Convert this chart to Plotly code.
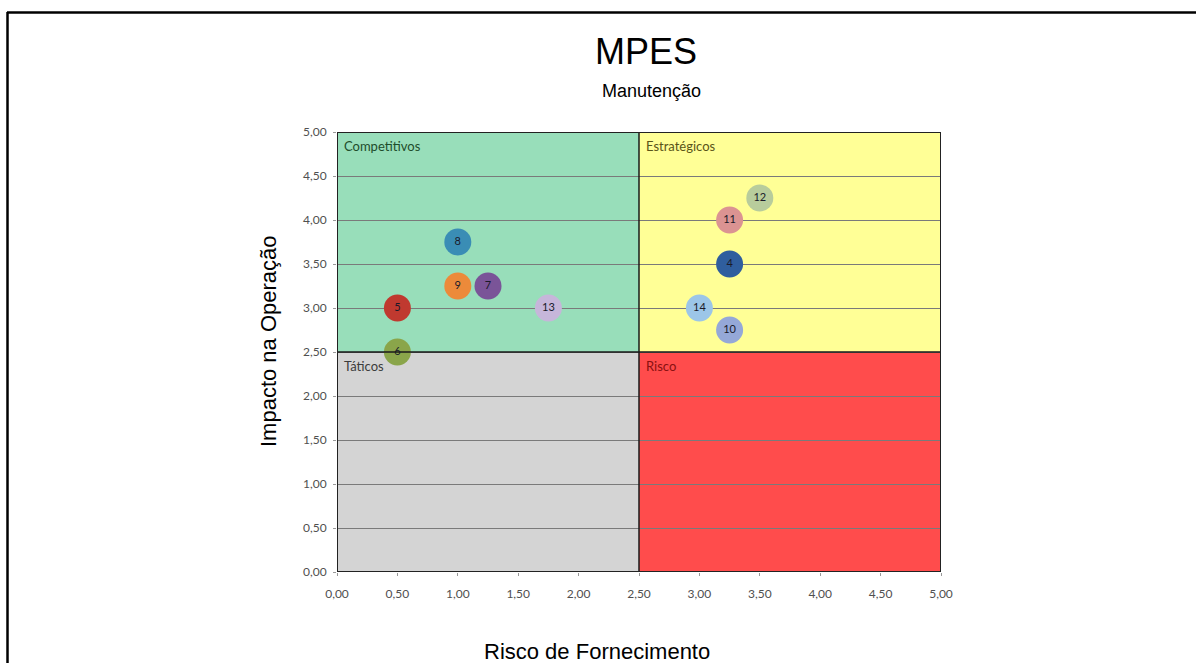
import plotly.graph_objects as go

# Item matrix: supply risk (x) vs operational impact (y)
item_ids = ["4", "5", "6", "7", "8", "9", "10", "11", "12", "13", "14"]
risco = [3.25, 0.50, 0.50, 1.25, 1.00, 1.00, 3.25, 3.25, 3.50, 1.75, 3.00]
impacto = [3.50, 3.00, 2.50, 3.25, 3.75, 3.25, 2.75, 4.00, 4.25, 3.00, 3.00]
cores = ["#2F5E9E", "#C0392F", "#8AA54A", "#7A5498", "#3A8DB5", "#EC8A3A",
         "#95A8D8", "#DB9392", "#B8CC9C", "#C6B6DA", "#9CC6E8"]

# Quadrants: (x0, x1, y0, y1, fill, label, label colour)
quadrantes = [
    (0.0, 2.5, 2.5, 5.0, "#98DEBA", "Competitivos", "#1E4D2B"),
    (2.5, 5.0, 2.5, 5.0, "#FFFF96", "Estratégicos", "#5A5418"),
    (0.0, 2.5, 0.0, 2.5, "#D4D4D4", "Táticos", "#3C3C3C"),
    (2.5, 5.0, 0.0, 2.5, "#FF4C4C", "Risco", "#8A1010"),
]

W, H = 1196, 663
L, R, T, B = 337, 941, 132, 572  # plot area in pixels
pw, ph = R - L, B - T


def px(x):
    return (x - L) / pw


def py(y):
    return (B - y) / ph


fig = go.Figure()
fig.add_trace(go.Scatter(
    x=risco, y=impacto, mode="markers+text", text=item_ids,
    textposition="middle center",
    textfont=dict(family="Lato, sans-serif", size=11, color="#1a1a2a"),
    marker=dict(size=27, color=cores, opacity=1, line=dict(width=0)),
    hoverinfo="skip", showlegend=False, cliponaxis=False,
))

shapes = []
annotations = []
for x0, x1, y0, y1, fill, label, lc in quadrantes:
    shapes.append(dict(type="rect", xref="x", yref="y", x0=x0, x1=x1, y0=y0, y1=y1,
                       fillcolor=fill, line=dict(width=0), layer="below"))
    annotations.append(dict(x=x0 + 0.045, y=y1 - 0.04, xref="x", yref="y", text=label,
                            showarrow=False, xanchor="left", yanchor="top",
                            font=dict(family="Lato, sans-serif", size=13, color=lc)))

# Quadrant dividers and plot frame
shapes += [
    dict(type="line", xref="x", yref="y", x0=2.5, x1=2.5, y0=0, y1=5,
         line=dict(color="#1a1a1a", width=1.5), layer="above"),
    dict(type="line", xref="x", yref="y", x0=0, x1=5, y0=2.5, y1=2.5,
         line=dict(color="#1a1a1a", width=1.5), layer="above"),
    dict(type="rect", xref="x", yref="y", x0=0, x1=5, y0=0, y1=5,
         line=dict(color="#222222", width=2), layer="above"),
]

# Outer frame (top and left edges)
shapes += [
    dict(type="line", xref="paper", yref="paper", x0=px(7), x1=px(W + 10),
         y0=py(12.5), y1=py(12.5), line=dict(color="black", width=2.5)),
    dict(type="line", xref="paper", yref="paper", x0=px(7.5), x1=px(7.5),
         y0=py(12), y1=py(H + 10), line=dict(color="black", width=2.5)),
]

annotations += [
    dict(x=px(646), y=py(51), xref="paper", yref="paper", text="MPES", showarrow=False,
         font=dict(family="Liberation Sans, Arial", size=36, color="black"),
         xanchor="center", yanchor="middle"),
    dict(x=px(651), y=py(91), xref="paper", yref="paper", text="Manutenção", showarrow=False,
         font=dict(family="Liberation Sans, Arial", size=18, color="black"),
         xanchor="center", yanchor="middle"),
    dict(x=px(597), y=py(651), xref="paper", yref="paper", text="Risco de Fornecimento",
         showarrow=False, font=dict(family="Liberation Sans, Arial", size=22, color="black"),
         xanchor="center", yanchor="middle"),
    dict(x=px(268), y=py(341), xref="paper", yref="paper", text="Impacto na Operação",
         showarrow=False, textangle=-90,
         font=dict(family="Liberation Sans, Arial", size=22, color="black"),
         xanchor="center", yanchor="middle"),
]

axis_common = dict(
    range=[0, 5], dtick=0.5, tick0=0, tickformat=".2f",
    ticks="outside", ticklen=3, tickcolor="#999999",
    tickfont=dict(family="Lato, sans-serif", size=12, color="#505050"),
    zeroline=False, showline=False, fixedrange=True,
)

fig.update_layout(
    width=W, height=H,
    margin=dict(l=L, r=W - R, t=T, b=H - B),
    paper_bgcolor="white", plot_bgcolor="white",
    separators=",.",
    xaxis=dict(**axis_common, showgrid=False, ticklabelstandoff=8),
    yaxis=dict(**axis_common, showgrid=True, gridcolor="#7a7a7a", gridwidth=1,
               ticklabelstandoff=4),
    shapes=shapes, annotations=annotations,
)

fig.write_html("out.html")
